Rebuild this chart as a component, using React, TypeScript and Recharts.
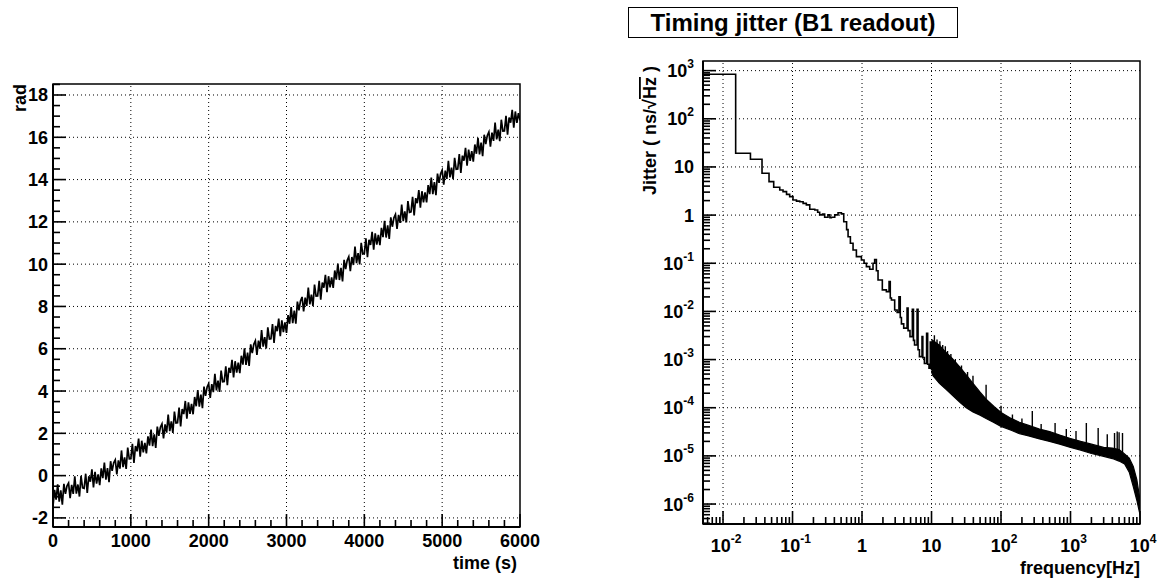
import React from 'react';
import {
  LineChart,
  ComposedChart,
  Line,
  Area,
  XAxis,
  YAxis,
  ReferenceLine,
  ReferenceArea,
} from 'recharts';

const FONT = '"Liberation Sans", Arial, Helvetica, sans-serif';

// ---------------- Left panel: phase vs time ----------------
const phaseStepSeconds = 20;
const phaseValues = [
  -1.45, -0.67, -1.14, -0.41, -1.23, -0.70, -1.37, -0.39, -0.86, -0.48,
  -0.35, -1.07, -0.44, -0.86, -0.03, -0.85, -0.42, -0.99, -0.01, -0.58,
  -0.60, 0.09, -0.82, -0.03, -0.29, 0.30, -0.56, 0.18, -0.38, 0.06,
  -0.45, 0.34, -0.12, 0.62, -0.19, 0.35, -0.31, 0.68, 0.22, 0.61,
  0.75, 0.06, 0.72, 0.33, 1.19, 0.40, 0.86, 0.32, 1.33, 0.79,
  0.80, 1.50, 0.60, 1.40, 1.15, 1.75, 0.90, 1.65, 1.10, 1.55,
  1.05, 1.86, 1.42, 2.18, 1.39, 1.95, 1.31, 2.32, 1.88, 2.29,
  2.45, 1.76, 2.42, 2.03, 2.89, 2.10, 2.56, 2.02, 3.03, 2.49,
  2.50, 3.22, 2.33, 3.15, 2.91, 3.53, 2.69, 3.46, 2.92, 3.39,
  2.90, 3.72, 3.28, 4.05, 3.26, 3.83, 3.19, 4.21, 3.77, 4.19,
  4.35, 3.67, 4.33, 3.95, 4.81, 4.03, 4.49, 3.96, 4.97, 4.44,
  4.45, 5.17, 4.28, 5.10, 4.86, 5.48, 4.64, 5.41, 4.87, 5.34,
  4.85, 5.67, 5.25, 6.02, 5.24, 5.82, 5.19, 6.21, 5.79, 6.21,
  6.38, 5.71, 6.38, 6.00, 6.88, 6.10, 6.55, 6.01, 7.01, 6.46,
  6.47, 7.17, 6.27, 7.08, 6.83, 7.43, 6.59, 7.34, 6.79, 7.25,
  6.75, 7.59, 7.18, 7.97, 7.21, 7.80, 7.19, 8.23, 7.82, 8.26,
  8.45, 7.76, 8.42, 8.03, 8.89, 8.10, 8.56, 8.02, 9.03, 8.49,
  8.50, 9.21, 8.32, 9.13, 8.89, 9.50, 8.67, 9.43, 8.90, 9.37,
  8.88, 9.70, 9.27, 10.03, 9.25, 9.82, 9.18, 10.20, 9.77, 10.18,
  10.35, 9.67, 10.34, 9.96, 10.83, 10.05, 10.52, 9.99, 11.01, 10.48,
  10.50, 11.22, 10.33, 11.15, 10.91, 11.53, 10.69, 11.46, 10.92, 11.39,
  10.90, 11.72, 11.28, 12.05, 11.26, 11.83, 11.19, 12.21, 11.77, 12.19,
  12.35, 11.67, 12.33, 11.95, 12.82, 12.03, 12.50, 11.97, 12.98, 12.45,
  12.47, 13.18, 12.30, 13.12, 12.88, 13.50, 12.67, 13.45, 12.92, 13.39,
  12.92, 13.74, 13.31, 14.09, 13.31, 13.88, 13.26, 14.28, 13.85, 14.28,
  14.45, 13.76, 14.42, 14.03, 14.89, 14.10, 14.56, 14.02, 15.03, 14.49,
  14.50, 15.21, 14.32, 15.13, 14.89, 15.50, 14.66, 15.42, 14.88, 15.34,
  14.85, 15.66, 15.22, 15.98, 15.19, 15.75, 15.11, 16.12, 15.68, 16.09,
  16.25, 15.56, 16.22, 15.83, 16.69, 15.90, 16.36, 15.82, 16.83, 16.29,
  16.30, 17.01, 16.12, 16.93, 16.69, 17.30, 16.46, 17.22, 16.68, 17.14,
  16.80,
];
const timeMajorTicks = [0, 1000, 2000, 3000, 4000, 5000, 6000];
const radMajorTicks = [-2, 0, 2, 4, 6, 8, 10, 12, 14, 16, 18];
const timeDomain: [number, number] = [0, 6000];
const radDomain: [number, number] = [-2.43, 18.52];

// ---------------- Right panel: timing jitter spectrum ----------------
const jitterStepFreq = [
  0.00515, 0.0152, 0.0248, 0.0364, 0.0459, 0.0536, 0.0655, 0.073, 0.082, 0.091,
  0.1016, 0.114, 0.127, 0.142, 0.158, 0.177, 0.209, 0.23, 0.246, 0.27,
  0.29, 0.324, 0.345, 0.362, 0.405, 0.452, 0.505, 0.546, 0.6, 0.63,
  0.68, 0.743, 0.83, 0.98, 1.07, 1.156, 1.29, 1.44, 1.52, 1.61,
  1.7, 1.96, 2.24, 2.45, 2.55, 2.65, 2.95, 3.2, 3.4, 3.55,
  3.69, 3.98, 4.45, 4.6, 4.9, 5.3, 5.5, 5.7, 6.2, 6.4,
  6.7, 7.3, 7.5, 7.9, 8.5, 8.8, 9.2, 9.6, 10.0,
];
const jitterStepVal = [
  841, 19.2, 14.4, 7.4, 4.95, 3.79, 3.33, 3.07, 2.7, 2.42,
  2.06, 1.95, 1.9, 1.75, 1.63, 1.32, 1.28, 1.15, 1.01, 1.05,
  0.9, 1.01, 0.88, 0.9, 1.01, 1.12, 1.06, 0.73, 0.5, 0.356,
  0.26, 0.189, 0.137, 0.117, 0.1, 0.085, 0.075, 0.1, 0.12, 0.07,
  0.045, 0.028, 0.0257, 0.0415, 0.019, 0.0173, 0.0107, 0.0095, 0.0202, 0.0075,
  0.0055, 0.0045, 0.0117, 0.004, 0.003, 0.011, 0.0025, 0.002, 0.011, 0.0016,
  0.00115, 0.003, 0.0011, 0.00083, 0.0035, 0.0008, 0.00066, 0.0023, 0.0006,
];
const bandFreq = [
  10, 10.5, 13, 16.2, 20, 25.6, 31.6, 39.5, 50, 61,
  80, 100, 140, 184, 250, 358, 500, 700, 1000, 1400,
  2000, 3000, 4000, 5000, 6000, 7000, 8000, 9000, 10000,
];
const bandLow = [
  5.5e-4, 4.6e-4, 3.2e-4, 2.4e-4, 1.8e-4, 1.3e-4, 1.0e-4, 8.2e-5, 7.0e-5, 6.0e-5,
  4.9e-5, 4.1e-5, 3.4e-5, 2.9e-5, 2.6e-5, 2.25e-5, 2.0e-5, 1.75e-5, 1.5e-5, 1.32e-5,
  1.12e-5, 9.8e-6, 8.8e-6, 7.8e-6, 6.8e-6, 4.6e-6, 2.3e-6, 1.2e-6, 6e-7,
];
const bandHigh = [
  2.6e-3, 2.5e-3, 2.0e-3, 1.4e-3, 1.05e-3, 7.0e-4, 4.8e-4, 3.2e-4, 2.1e-4, 1.5e-4,
  1.05e-4, 8.0e-5, 6.0e-5, 5.0e-5, 4.3e-5, 3.6e-5, 3.2e-5, 2.7e-5, 2.3e-5, 2.0e-5,
  1.75e-5, 1.5e-5, 1.45e-5, 1.35e-5, 1.1e-5, 9.0e-6, 6e-6, 3.2e-6, 1.2e-6,
];
const spikeFreq = [
  11, 12, 13.2, 14.5, 15.8, 17, 19, 22, 27, 33,
  39.5, 61, 100, 146, 200, 282, 378, 600, 870, 1200,
  1690, 2500, 3380, 4300, 4700, 5000, 5600,
];
const spikeBase = [
  1.2e-3, 1e-3, 8e-4, 7e-4, 6e-4, 5e-4, 4e-4, 3e-4, 2.2e-4, 1.8e-4,
  1.5e-4, 9e-5, 5.5e-5, 4.4e-5, 3.8e-5, 3.2e-5, 2.8e-5, 2.3e-5, 2.0e-5, 1.8e-5,
  1.5e-5, 1.3e-5, 1.2e-5, 1.1e-5, 1.05e-5, 1.0e-5, 9e-6,
];
const spikeTop = [
  3.2e-3, 2.6e-3, 2.4e-3, 2.0e-3, 1.9e-3, 1.5e-3, 1.3e-3, 1.0e-3, 7.5e-4, 5.5e-4,
  4.6e-4, 3.0e-4, 1.1e-4, 7.2e-5, 6.0e-5, 8.5e-5, 4.6e-5, 4.8e-5, 3.6e-5, 3.3e-5,
  4.8e-5, 3.8e-5, 2.8e-5, 3.0e-5, 3.2e-5, 3.1e-5, 3.0e-5,
];
const freqDecades = [-2, -1, 0, 1, 2, 3, 4];
const jitterDecades = [-6, -5, -4, -3, -2, -1, 0, 1, 2, 3];
const freqDomain: [number, number] = [0.00515, 10000];
const jitterDomain: [number, number] = [3.85e-7, 1585];

// ---------------- derived structures ----------------
const phaseData = phaseValues.map((v, i) => ({ t: i * phaseStepSeconds, v }));
const stepData = jitterStepFreq.map((f, i) => ({ f, v: jitterStepVal[i] }));
const bandData = bandFreq.map((f, i) => ({ f, lo: bandLow[i], hi: bandHigh[i] }));
const spikeData: { f: number; v: number | null }[] = [];
spikeFreq.forEach((f, i) => {
  spikeData.push({ f, v: spikeBase[i] });
  spikeData.push({ f, v: spikeTop[i] });
  spikeData.push({ f, v: null });
});

const linearTicks = (lo: number, hi: number, step: number) => {
  const out: number[] = [];
  for (let v = lo; v <= hi + 1e-9; v += step) out.push(Math.round(v * 1000) / 1000);
  return out;
};
const timeTicks = linearTicks(0, 6000, 200);
const radTicks = linearTicks(-2, 18.5, 0.5);

const logTicks = (domain: [number, number]) => {
  const out: number[] = [];
  for (let e = -8; e <= 5; e++) {
    for (let m = 1; m <= 9; m++) {
      const v = m * Math.pow(10, e);
      if (v >= domain[0] && v <= domain[1] * 1.0001) out.push(v);
    }
  }
  return out;
};
const freqTicks = logTicks(freqDomain);
const jitterTicks = logTicks(jitterDomain);
const decadeOf = (v: number) => Math.round(Math.log10(v));
const isDecade = (v: number) => Math.abs(Math.log10(v) - decadeOf(v)) < 1e-6;

const TXT = { fontFamily: FONT, fontWeight: 'bold' as const, fill: '#000' };
const TICK_W = 1.6;

const renderTimeTick = (p: any) => {
  const { x, y, payload } = p;
  const v = payload.value;
  const major = timeMajorTicks.includes(v);
  return (
    <g key={`tt-${v}`}>
      <path d={`M${x},${y}V${y - (major ? 13 : 7)}`} stroke="#000" strokeWidth={TICK_W} fill="none" />
      {major && (
        <text x={x} y={y + 20} textAnchor="middle" fontSize={18} {...TXT}>
          {v}
        </text>
      )}
    </g>
  );
};

const renderRadTick = (p: any) => {
  const { x, y, payload } = p;
  const v = payload.value;
  const major = radMajorTicks.includes(v);
  return (
    <g key={`rt-${v}`}>
      <path d={`M${x},${y}H${x + (major ? 13 : 7)}`} stroke="#000" strokeWidth={TICK_W} fill="none" />
      {major && (
        <text x={x - 5} y={y + 6.5} textAnchor="end" fontSize={18} {...TXT}>
          {v}
        </text>
      )}
    </g>
  );
};

const powLabel = (e: number, x: number, y: number, anchor: 'middle' | 'end') => {
  if (e === 0 || e === 1) {
    return (
      <text x={x} y={y} textAnchor={anchor} fontSize={18} {...TXT}>
        {e === 0 ? '1' : '10'}
      </text>
    );
  }
  return (
    <text x={x} y={y} textAnchor={anchor} fontSize={18} {...TXT}>
      <tspan>10</tspan>
      <tspan dy={-9} fontSize={12}>
        {e}
      </tspan>
    </text>
  );
};

const renderFreqTick = (p: any) => {
  const { x, y, payload } = p;
  const v = payload.value;
  const major = isDecade(v);
  const e = decadeOf(v);
  return (
    <g key={`ft-${v}`}>
      <path d={`M${x},${y}V${y - (major ? 13 : 7)}`} stroke="#000" strokeWidth={TICK_W} fill="none" />
      {major && freqDecades.includes(e) && powLabel(e, x + (e === 0 || e === 1 ? 0 : 3), y + 28, 'middle')}
    </g>
  );
};

const renderJitterTick = (p: any) => {
  const { x, y, payload } = p;
  const v = payload.value;
  const major = isDecade(v);
  const e = decadeOf(v);
  return (
    <g key={`jt-${v}`}>
      <path d={`M${x},${y}H${x + (major ? 13 : 7)}`} stroke="#000" strokeWidth={TICK_W} fill="none" />
      {major && jitterDecades.includes(e) && powLabel(e, x - 9, y + 6.5, 'end')}
    </g>
  );
};

const GRID = { stroke: '#000', strokeWidth: 1, strokeDasharray: '1 3' };

export default function App() {
  return (
    <div
      style={{
        position: 'absolute',
        left: 0,
        top: 0,
        width: 1157,
        height: 580,
        background: '#fff',
        fontFamily: FONT,
        overflow: 'hidden',
      }}
    >
      {/* Left chart */}
      <div style={{ position: 'absolute', left: 0, top: 0 }}>
        <LineChart
          width={580}
          height={580}
          data={phaseData}
          margin={{ top: 84, right: 60, bottom: 0, left: 0 }}
        >
          <XAxis
            dataKey="t"
            type="number"
            domain={timeDomain}
            ticks={timeTicks}
            interval={0}
            tick={renderTimeTick}
            tickSize={0}
            tickMargin={0}
            tickLine={false}
            height={53}
            axisLine={{ stroke: '#000', strokeWidth: 2 }}
            allowDataOverflow
          />
          <YAxis
            type="number"
            domain={radDomain}
            ticks={radTicks}
            interval={0}
            tick={renderRadTick}
            tickSize={0}
            tickMargin={0}
            tickLine={false}
            width={53}
            axisLine={{ stroke: '#000', strokeWidth: 2 }}
            allowDataOverflow
          />
          {timeMajorTicks.slice(1, -1).map((t) => (
            <ReferenceLine key={`gx${t}`} x={t} {...GRID} />
          ))}
          {radMajorTicks.map((r) => (
            <ReferenceLine key={`gy${r}`} y={r} {...GRID} />
          ))}
          <Line
            dataKey="v"
            type="linear"
            stroke="#000"
            strokeWidth={1.7}
            dot={false}
            isAnimationActive={false}
          />
          <ReferenceArea
            x1={timeDomain[0]}
            x2={timeDomain[1]}
            y1={radDomain[0]}
            y2={radDomain[1]}
            fill="none"
            fillOpacity={0}
            stroke="#000"
            strokeWidth={1.5}
          />
        </LineChart>
      </div>

      {/* Right chart */}
      <div style={{ position: 'absolute', left: 580, top: 0 }}>
        <ComposedChart
          width={577}
          height={580}
          margin={{ top: 61, right: 17, bottom: 0, left: 0 }}
        >
          <XAxis
            dataKey="f"
            type="number"
            scale="log"
            domain={freqDomain}
            ticks={freqTicks}
            interval={0}
            tick={renderFreqTick}
            tickSize={0}
            tickMargin={0}
            tickLine={false}
            height={56}
            axisLine={{ stroke: '#000', strokeWidth: 2 }}
            allowDataOverflow
          />
          <YAxis
            type="number"
            scale="log"
            domain={jitterDomain}
            ticks={jitterTicks}
            interval={0}
            tick={renderJitterTick}
            tickSize={0}
            tickMargin={0}
            tickLine={false}
            width={123}
            axisLine={{ stroke: '#000', strokeWidth: 2 }}
            allowDataOverflow
          />
          {freqDecades.slice(0, -1).map((e) => (
            <ReferenceLine key={`fx${e}`} x={Math.pow(10, e)} {...GRID} />
          ))}
          {jitterDecades.map((e) => (
            <ReferenceLine key={`jy${e}`} y={Math.pow(10, e)} {...GRID} />
          ))}
          <Area
            data={bandData}
            dataKey={(d: any) => [d.lo, d.hi]}
            type="linear"
            stroke="#000"
            strokeWidth={1.2}
            fill="#000"
            fillOpacity={1}
            dot={false}
            activeDot={false}
            isAnimationActive={false}
          />
          <Line
            data={stepData}
            dataKey="v"
            type="stepAfter"
            stroke="#000"
            strokeWidth={1.6}
            dot={false}
            isAnimationActive={false}
          />
          <Line
            data={spikeData}
            dataKey="v"
            type="linear"
            stroke="#000"
            strokeWidth={1.4}
            dot={false}
            connectNulls={false}
            isAnimationActive={false}
          />
          <ReferenceArea
            x1={freqDomain[0]}
            x2={freqDomain[1]}
            y1={jitterDomain[0]}
            y2={jitterDomain[1]}
            fill="none"
            fillOpacity={0}
            stroke="#000"
            strokeWidth={1.5}
          />
        </ComposedChart>
      </div>

      {/* Title box */}
      <div
        style={{
          position: 'absolute',
          left: 628,
          top: 7,
          width: 330,
          height: 31,
          boxSizing: 'border-box',
          border: '1px solid #000',
          display: 'flex',
          alignItems: 'center',
          justifyContent: 'center',
          fontFamily: FONT,
          fontWeight: 'bold',
          fontSize: 24,
          color: '#000',
        }}
      >
        Timing jitter (B1 readout)
      </div>

      {/* Axis titles */}
      <svg
        width={1157}
        height={580}
        style={{ position: 'absolute', left: 0, top: 0, pointerEvents: 'none' }}
      >
        <text transform="translate(26,84) rotate(-90)" textAnchor="end" fontSize={18} {...TXT}>
          rad
        </text>
        <text x={517} y={569} textAnchor="end" fontSize={18} {...TXT}>
          time (s)
        </text>
        <text transform="translate(656,66) rotate(-90)" textAnchor="end" fontSize={18} {...TXT}>
          Jitter ( ns/√<tspan textDecoration="overline" style={{ textDecoration: 'overline' }}>Hz</tspan> )
        </text>
        <text x={1140} y={574} textAnchor="end" fontSize={18} {...TXT}>
          frequency[Hz]
        </text>
      </svg>
    </div>
  );
}
